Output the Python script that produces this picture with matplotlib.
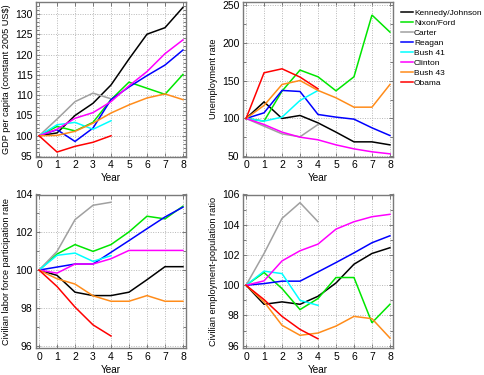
import matplotlib
matplotlib.use("Agg")
import matplotlib.pyplot as plt
from matplotlib.ticker import MultipleLocator

plt.rcParams['font.family'] = ['Liberation Sans', 'DejaVu Sans']

years = list(range(9))
presidents = ["Kennedy/Johnson", "Nixon/Ford", "Carter", "Reagan", "Bush 41",
              "Clinton", "Bush 43", "Obama"]
colors = ["#000000", "#00e600", "#a0a0a0", "#0000ff", "#00ffff",
          "#ff00ff", "#ff8c1a", "#ff0000"]

gdp = {
    "Kennedy/Johnson": [100, 100.7, 105.0, 108.0, 112.5, 118.9, 125.0, 126.6, 131.6],
    "Nixon/Ford":      [100, 102.3, 101.2, 103.3, 108.9, 113.2, 111.7, 110.2, 115.1],
    "Carter":          [100, 104.1, 108.4, 110.5, 109.1],
    "Reagan":          [100, 101.5, 98.6, 101.9, 108.9, 112.0, 114.8, 117.4, 121.1],
    "Bush 41":         [100, 102.7, 103.3, 101.6, 103.7],
    "Clinton":         [100, 101.6, 104.3, 105.7, 108.4, 112.3, 115.8, 120.2, 123.6],
    "Bush 43":         [100, 100.1, 101.1, 103.1, 105.6, 107.6, 109.3, 110.3, 108.9],
    "Obama":           [100, 96.0, 97.4, 98.4, 100.0],
}

unemp = {
    "Kennedy/Johnson": [100, 122, 100, 104, 94.2, 81.9, 69, 69, 65],
    "Nixon/Ford":      [100, 96.5, 136.3, 164.2, 155.3, 136.7, 155.3, 237.2, 214.6],
    "Carter":          [100, 89.8, 79.6, 75.7, 92],
    "Reagan":          [100, 107.5, 137.2, 135.8, 105.3, 101.8, 99.1, 87.6, 77.4],
    "Bush 41":         [100, 96.5, 101.8, 123.9, 137.2],
    "Clinton":         [100, 92, 81.9, 75.2, 71.7, 65, 59.7, 55.8, 53.1],
    "Bush 43":         [100, 117.3, 145.1, 150.4, 137.2, 127.4, 115, 115, 145.1],
    "Obama":           [100, 160.6, 165.9, 154.9, 139.4],
}

lfpr = {
    "Kennedy/Johnson": [100, 99.72, 98.83, 98.65, 98.65, 98.83, 99.49, 100.18, 100.18],
    "Nixon/Ford":      [100, 100.85, 101.35, 100.99, 101.35, 102.02, 102.85, 102.71, 103.38],
    "Carter":          [100, 100.99, 102.67, 103.43, 103.59],
    "Reagan":          [100, 100.16, 100.32, 100.32, 100.94, 101.56, 102.19, 102.81, 103.33],
    "Bush 41":         [100, 100.78, 100.90, 100.46, 100.76],
    "Clinton":         [100, 99.84, 100.32, 100.32, 100.60, 101.04, 101.04, 101.04, 101.04],
    "Bush 43":         [100, 99.54, 99.26, 98.64, 98.35, 98.35, 98.65, 98.35, 98.35],
    "Obama":           [100, 99.13, 98.04, 97.10, 96.51],
}

epop = {
    "Kennedy/Johnson": [100, 98.74, 98.90, 98.74, 99.27, 100.15, 101.39, 102.10, 102.48],
    "Nixon/Ford":      [100, 100.84, 99.78, 98.39, 99.12, 100.51, 100.51, 97.52, 98.74],
    "Carter":          [100, 102.10, 104.42, 105.46, 104.20],
    "Reagan":          [100, 100.11, 100.27, 100.27, 100.88, 101.50, 102.14, 102.81, 103.27],
    "Bush 41":         [100, 100.93, 100.77, 99.00, 98.67],
    "Clinton":         [100, 100.29, 101.61, 102.28, 102.72, 103.71, 104.20, 104.53, 104.69],
    "Bush 43":         [100, 98.90, 97.35, 96.69, 96.84, 97.30, 97.94, 97.79, 96.51],
    "Obama":           [100, 99.05, 97.94, 97.08, 96.46],
}

W, H = 484, 375
fig = plt.figure(figsize=(W / 100, H / 100), dpi=100)


def box(l, t, r, b):
    return [l / W, 1 - b / H, (r - l) / W, (b - t) / H]


panels = [
    (box(36, 1.7, 186, 156.7), gdp, (94.85, 133.0), 5, 1,
     "GDP per capita (constant 2005 US$)"),
    (box(243, 1.7, 393, 156.7), unemp, (49.3, 254.9), 50, 25,
     "Unemployment rate"),
    (box(36, 194.5, 186, 348.3), lfpr, (95.86, 104.0), 2, 1,
     "Civilian labor force participation rate"),
    (box(243, 194.5, 393, 348.3), epop, (95.83, 106.0), 2, 1,
     "Civilian employment-population ratio"),
]

axes = []
for rect, data, ylim, major, minor, ylabel in panels:
    ax = fig.add_axes(rect)
    for name, c in zip(presidents, colors):
        vals = data[name]
        ax.plot(years[:len(vals)], vals, color=c, lw=1.1, label=name,
                solid_joinstyle='miter')
    ax.set_xlim(-0.17, 8.17)
    ax.set_ylim(*ylim)
    ax.xaxis.set_major_locator(MultipleLocator(1))
    ax.yaxis.set_major_locator(MultipleLocator(major))
    ax.yaxis.set_minor_locator(MultipleLocator(minor))
    ax.grid(True, which='major', color='#b8b8b8', linestyle=(0, (1, 1.5)), lw=0.7)
    ax.set_axisbelow(True)
    for s in ax.spines.values():
        s.set_color('#7a7a7a')
        s.set_linewidth(1.0)
    ax.tick_params(which='both', direction='in', top=True, right=True,
                   color='#7a7a7a', labelsize=7.5)
    ax.tick_params(axis='x', pad=2.5)
    ax.tick_params(axis='y', pad=2.5)
    ax.tick_params(which='major', length=3, width=0.7)
    ax.tick_params(which='minor', length=2, width=0.7)
    ax.set_xlabel("Year", fontsize=7.2, labelpad=2)
    ax.set_ylabel(ylabel, fontsize=6.6, labelpad=3)
    axes.append(ax)

leg = fig.legend(*axes[1].get_legend_handles_labels(),
                 loc='upper left', bbox_to_anchor=(401 / W, 1 - 9.0 / H),
                 frameon=False, fontsize=6.0, handlelength=1.4,
                 handletextpad=0.15, labelspacing=0.26, borderaxespad=0,
                 borderpad=0)

fig.savefig("out.png", dpi=100)
